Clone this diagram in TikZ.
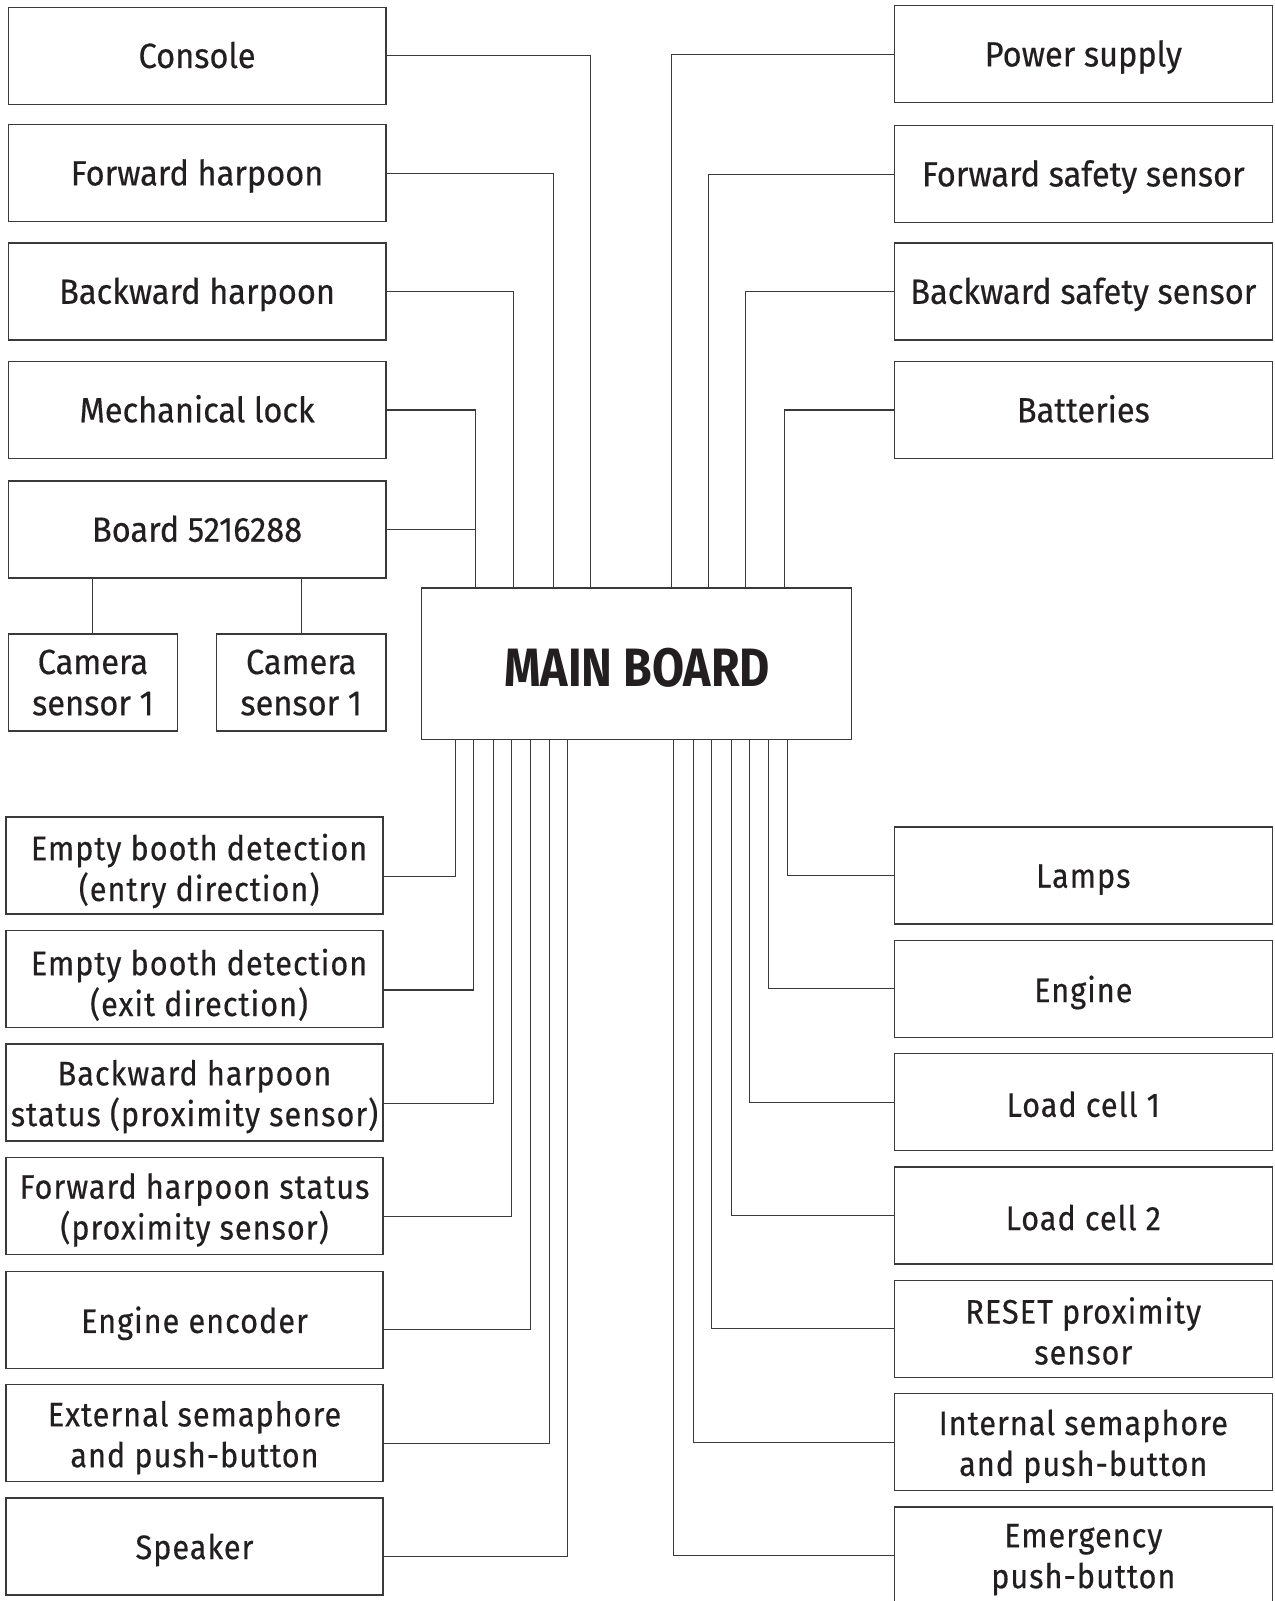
\documentclass[tikz,border=0pt]{standalone}
\usepackage{fontspec}
\newfontfamily\topfont[FakeStretch=0.93,FakeBold=0.4]{Fira Sans}
\newfontfamily\botfont[FakeStretch=0.9,LetterSpace=3,FakeBold=0.4]{Fira Sans}
\newfontfamily\mbfont[FakeStretch=0.86]{Fira Sans}
\definecolor{ink}{HTML}{231F20}
\definecolor{edge}{HTML}{3A3A3A}
\begin{document}
\begin{tikzpicture}[x=0.5104pt,y=-0.5104pt,
  box/.style={draw=edge,line width=0.65pt,fill=white,text=ink,inner sep=0pt,align=center,
    minimum width=370*0.5104pt,minimum height=95*0.5104pt,font=\topfont\fontsize{17.5}{20.6}\selectfont},
  one/.style={text height=12.3pt,text depth=0pt},
  lbox/.style={box,minimum width=369*0.5104pt,font=\botfont\fontsize{17}{20.4}\selectfont},
  rbox/.style={box,font=\botfont\fontsize{17}{20.4}\selectfont},
  cbox/.style={box,minimum width=166*0.5104pt},
  txt/.style={inner sep=0pt,align=center,text=ink,font=\botfont\fontsize{17}{20.4}\selectfont},
  wire/.style={draw=edge,line width=0.55pt}]
\useasboundingbox (0,0) rectangle (1248,1568);
\clip (0,0) rectangle (1248,1568);
\fill[white] (0,0) rectangle (1248,1568);
% main board
\node[box,minimum width=421*0.5104pt,minimum height=148*0.5104pt] (mb) at (623.5,650) {};
\node[txt,font=\mbfont\bfseries\fontsize{27}{30}\selectfont] (mbt) at (624,654) {MAIN BOARD};
% top-left boxes
\node[box,one] (console) at (193,54.5) {Console};
\node[box,one] (fwdh) at (193,169.5) {Forward harpoon};
\node[box,one] (bwdh) at (193,285.5) {Backward harpoon};
\node[box,one] (mlock) at (193,401.5) {Mechanical lock};
\node[box,one] (board) at (193,518.5) {Board 5216288};
\node[cbox] (cam1) at (91,668.5) {Camera\\sensor 1};
\node[cbox] (cam2) at (295,668.5) {Camera\\sensor 1};
% top-right boxes
\node[box,one] (power) at (1061,53) {Power supply};
\node[box,one] (fsafe) at (1061,170.5) {Forward safety sensor};
\node[box,one] (bsafe) at (1061,285.5) {Backward safety sensor};
\node[box,one] (batt) at (1061,401.5) {Batteries};
% bottom-left boxes
\node[lbox] (entry) at (190.5,847.5) {};
\node[txt] (entryt) at (195,853) {Empty booth detection\\(entry direction)};
\node[lbox] (exit) at (190.5,959) {};
\node[txt] (exitt) at (195,964.5) {Empty booth detection\\(exit direction)};
\node[lbox] (bstat) at (190.5,1070) {};
\node[txt] (bstatt) at (190.5,1074) {Backward harpoon\\status (proximity sensor)};
\node[lbox] (fstat) at (190.5,1181) {};
\node[txt] (fstatt) at (190.5,1185) {Forward harpoon status\\(proximity sensor)};
\node[lbox] (enc) at (190.5,1292.5) {};
\node[txt] (enct) at (190.5,1296) {Engine encoder};
\node[lbox] (extsem) at (190.5,1403.5) {};
\node[txt] (extsemt) at (190.5,1408) {External semaphore\\and push-button};
\node[lbox] (speaker) at (190.5,1514.5) {};
\node[txt] (speakert) at (190.5,1518) {Speaker};
% bottom-right boxes
\node[rbox] (lamps) at (1061,857.5) {};
\node[txt] (lampst) at (1061,861.5) {Lamps};
\node[rbox] (engine) at (1061,968.5) {};
\node[txt] (enginet) at (1061,972) {Engine};
\node[rbox] (load1) at (1061,1079.5) {};
\node[txt] (load1t) at (1061,1081.5) {Load cell 1};
\node[rbox] (load2) at (1061,1190.5) {};
\node[txt] (load2t) at (1061,1192.5) {Load cell 2};
\node[rbox] (reset) at (1061,1301.5) {};
\node[txt] (resett) at (1061,1303.5) {RESET proximity\\sensor};
\node[rbox] (intsem) at (1061,1412.5) {};
\node[txt] (intsemt) at (1061,1416.5) {Internal semaphore\\and push-button};
\node[rbox] (emerg) at (1061,1523.5) {};
\node[txt] (emergt) at (1061,1527.5) {Emergency\\push-button};
% connector end points on the main board
\coordinate (t1) at (578,576);
\coordinate (t2) at (542,576);
\coordinate (t3) at (503,576);
\coordinate (t4) at (466,576);
\coordinate (u1) at (658,576);
\coordinate (u2) at (694,576);
\coordinate (u3) at (730,576);
\coordinate (u4) at (768,576);
\coordinate (b1) at (446,724);
\coordinate (b2) at (464,724);
\coordinate (b3) at (483,724);
\coordinate (b4) at (501,724);
\coordinate (b5) at (520,724);
\coordinate (b6) at (538,724);
\coordinate (b7) at (556,724);
\coordinate (c1) at (771,724);
\coordinate (c2) at (753,724);
\coordinate (c3) at (734,724);
\coordinate (c4) at (716,724);
\coordinate (c5) at (697,724);
\coordinate (c6) at (679,724);
\coordinate (c7) at (660,724);
% connectors
\draw[wire] (console.east) -| (t1);
\draw[wire] (fwdh.east) -| (t2);
\draw[wire] (bwdh.east) -| (t3);
\draw[wire] (mlock.east) -| (t4);
\draw[wire] (board.east) -- (board.east -| t4);
\draw[wire] (board.south -| cam1.north) -- (cam1.north);
\draw[wire] (board.south -| cam2.north) -- (cam2.north);
\draw[wire] (power.west) -| (u1);
\draw[wire] (fsafe.west) -| (u2);
\draw[wire] (bsafe.west) -| (u3);
\draw[wire] (batt.west) -| (u4);
\draw[wire] ([yshift=-5.4pt]entry.east) -| (b1);
\draw[wire] ([yshift=-5.4pt]exit.east) -| (b2);
\draw[wire] ([yshift=-5.4pt]bstat.east) -| (b3);
\draw[wire] ([yshift=-5.4pt]fstat.east) -| (b4);
\draw[wire] ([yshift=-5.0pt]enc.east) -| (b5);
\draw[wire] ([yshift=-5.0pt]extsem.east) -| (b6);
\draw[wire] ([yshift=-5.0pt]speaker.east) -| (b7);
\draw[wire] (lamps.west) -| (c1);
\draw[wire] (engine.west) -| (c2);
\draw[wire] (load1.west) -| (c3);
\draw[wire] (load2.west) -| (c4);
\draw[wire] (reset.west) -| (c5);
\draw[wire] (intsem.west) -| (c6);
\draw[wire] (emerg.west) -| (c7);
\end{tikzpicture}
\end{document}
